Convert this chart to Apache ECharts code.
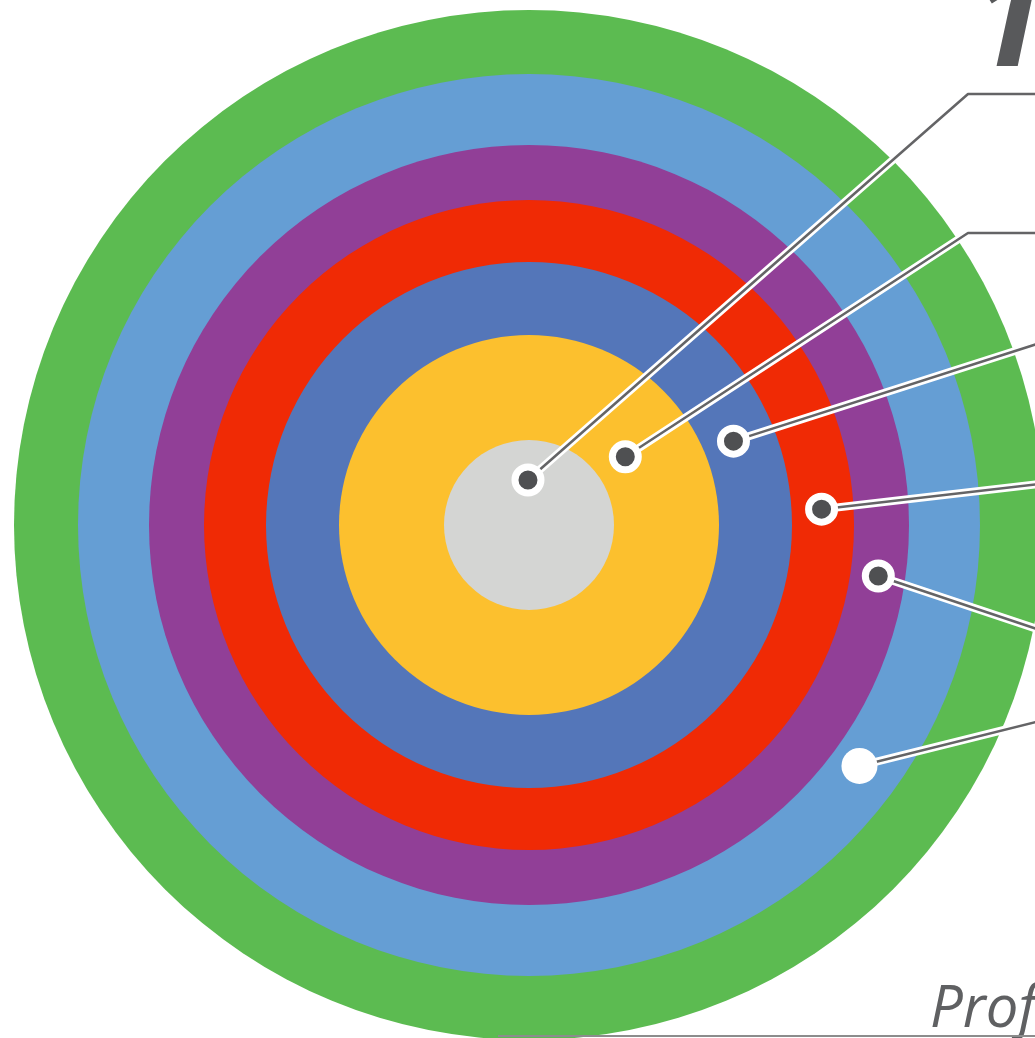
<!DOCTYPE html>
<html>
<head>
<meta charset="utf-8">
<script src="https://cdn.jsdelivr.net/npm/echarts@6/dist/echarts.min.js"></script>
<style>
  html, body { margin: 0; padding: 0; background: #fff; }
  #main { width: 1035px; height: 1038px; }
</style>
</head>
<body>
<div id="main"></div>
<script>
// rings, inner -> outer (outer radius of each disc)
const ringNames = ['core', 'ring 2', 'ring 3', 'ring 4', 'ring 5', 'ring 6', 'ring 7'];
const ringRadius = [85, 190, 263, 325, 380, 451, 515];

// marker dots: distance from centre and angle (deg, counter-clockwise from east)
const markerRadius = [45, 118, 221, 293, 353, 409];
const markerAngle = [91.3, 35.3, 22.3, 3.1, 351.7, 323.9];

const titleText = '1';
const footerText = 'Prof';

// layout / style
const ringColors = ['#D4D5D3', '#FCC02E', '#5476B9', '#F02A05', '#913F97', '#659ED4', '#5CBB51'];
const CENTER = [529, 525];
const R = 515;
// elbow of each leader line, after which it runs flat off the right edge
const leaderElbow = [[968, 94], [968, 233], [1040, 343], [1040, 484], [1040, 630], [1040, 721]];

const chart = echarts.init(document.getElementById('main'), null, { renderer: 'canvas' });

const series = [];
for (let i = ringRadius.length - 1; i >= 0; i--) {
  series.push({
    name: ringNames[i],
    type: 'bar',
    coordinateSystem: 'polar',
    polarIndex: 0,
    data: [ringRadius[i]],
    barGap: '-100%',
    barCategoryGap: '0%',
    itemStyle: { color: ringColors[i] },
    silent: true,
    z: 1 + (ringRadius.length - i)
  });
}

// dots sit on their own layer so the leader lines pass under them
series.push({
  type: 'scatter',
  coordinateSystem: 'polar',
  polarIndex: 1,
  zlevel: 1,
  silent: true,
  data: markerRadius.map((r, i) => {
    const last = i === markerRadius.length - 1;
    return {
      value: [r, markerAngle[i]],
      symbolSize: last ? 36 : 26,
      itemStyle: last
        ? { color: '#ffffff', borderWidth: 0, opacity: 1 }
        : { color: '#4F5052', borderColor: '#ffffff', borderWidth: 7, opacity: 1 }
    };
  })
});

chart.setOption({
  animation: false,
  backgroundColor: '#ffffff',
  polar: [
    { center: CENTER, radius: R },
    { center: CENTER, radius: R }
  ],
  angleAxis: [
    { polarIndex: 0, type: 'category', data: [''], startAngle: 90, show: false },
    { polarIndex: 1, type: 'value', min: 0, max: 360, startAngle: 0, clockwise: false, show: false }
  ],
  radiusAxis: [
    { polarIndex: 0, type: 'value', min: 0, max: R, show: false },
    { polarIndex: 1, type: 'value', min: 0, max: R, show: false }
  ],
  series: series
});

// leader lines from each marker, plus the loose text
const scatterIndex = series.length - 1;
const graphics = [];
markerRadius.forEach((r, i) => {
  const p = chart.convertToPixel({ seriesIndex: scatterIndex }, [r, markerAngle[i]]);
  const e = leaderElbow[i];
  const pts = [p, e, [1045, e[1]]];
  graphics.push({
    type: 'polyline', z: 20, silent: true,
    shape: { points: pts },
    style: { stroke: '#ffffff', lineWidth: 8, fill: null, lineJoin: 'round' }
  });
  graphics.push({
    type: 'polyline', z: 21, silent: true,
    shape: { points: pts },
    style: { stroke: '#646466', lineWidth: 2.5, fill: null, lineJoin: 'round' }
  });
});

graphics.push({
  type: 'text', z: 40, silent: true,
  style: {
    text: titleText, x: 970, y: 97, verticalAlign: 'bottom',
    fontSize: 142, fontWeight: 'bold', fontStyle: 'italic', fontFamily: '"Open Sans"',
    fill: '#58595B'
  }
});
graphics.push({
  type: 'text', z: 40, silent: true,
  style: {
    text: footerText, x: 930, y: 1039, verticalAlign: 'bottom',
    fontSize: 58, fontStyle: 'italic', fontFamily: '"Open Sans"',
    fill: '#5F6062'
  }
});
graphics.push({
  type: 'line', z: 40, silent: true,
  shape: { x1: 498, y1: 1036, x2: 1040, y2: 1036 },
  style: { stroke: '#8C8C8C', lineWidth: 2 }
});

chart.setOption({ graphic: graphics });
</script>
</body>
</html>
